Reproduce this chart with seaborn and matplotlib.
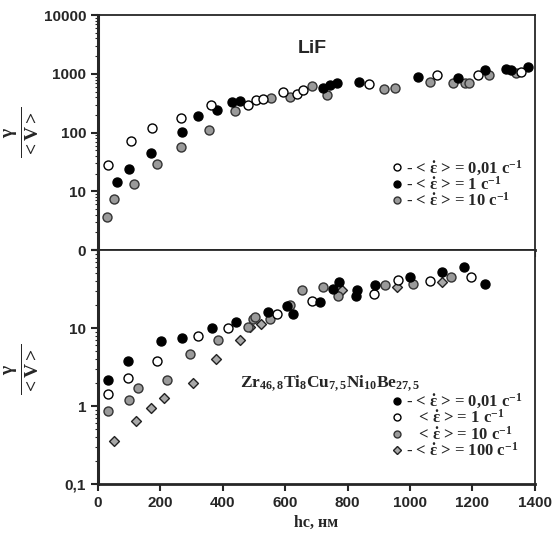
import numpy as np
import pandas as pd
import matplotlib
matplotlib.use('Agg')
import matplotlib.pyplot as plt
import seaborn as sns
from matplotlib.lines import Line2D

# ---- LiF (top panel) ----
lif_x_001 = [32, 105, 174, 265, 361, 480, 508, 530, 594, 637, 658, 868, 1085, 1218, 1357]
lif_y_001 = [28, 72, 121, 174, 295, 300, 357, 372, 495, 452, 529, 661, 952, 952, 1084]
lif_x_1 = [60, 100, 170, 270, 319, 382, 428, 455, 722, 743, 765, 836, 1026, 1154, 1240, 1309, 1325, 1377]
lif_y_1 = [14.6, 23.6, 45, 103, 191, 241, 335, 344, 579, 643, 688, 733, 892, 836, 1158, 1189, 1158, 1318]
lif_x_10 = [30, 52, 116, 190, 265, 357, 439, 553, 615, 685, 733, 916, 952, 1064, 1138, 1176, 1189, 1253, 1341]
lif_y_10 = [3.6, 7.5, 13.3, 28.7, 57, 110, 235, 382, 407, 620, 435, 544, 565, 733, 688, 688, 688, 952, 1017]

# ---- Zr46,8Ti8Cu7,5Ni10Be27,5 (bottom panel) ----
zr_x_001 = [33, 97, 201, 268, 364, 442, 546, 605, 626, 711, 752, 773, 829, 827, 888, 1000, 1103, 1173, 1240]
zr_y_001 = [2.13, 3.78, 6.86, 7.36, 10, 12.1, 16.0, 19.1, 15.2, 21.5, 31.2, 38.9, 30.3, 26.1, 35.2, 45.1, 52.4, 60.7, 36.2]
zr_x_1 = [33, 97, 188, 321, 417, 573, 685, 884, 962, 1064, 1197]
zr_y_1 = [1.41, 2.31, 3.78, 7.8, 10, 15.2, 22.5, 27.5, 40.8, 40.1, 45.1]
zr_x_10 = [33, 100, 127, 222, 295, 385, 480, 498, 503, 551, 615, 655, 722, 770, 920, 1010, 1133]
zr_y_10 = [0.86, 1.18, 1.72, 2.13, 4.62, 7.07, 10.2, 13.1, 13.7, 13.1, 19.8, 30.3, 33.5, 26.1, 35.2, 36.2, 45.1]
zr_x_100 = [51, 121, 170, 211, 303, 377, 455, 487, 524, 781, 957, 1101]
zr_y_100 = [0.36, 0.64, 0.93, 1.27, 1.95, 4.06, 7.07, 10.2, 11.3, 30.3, 33.5, 38.9]

x_ticks = [0, 200, 400, 600, 800, 1000, 1200, 1400]
top_ticks = [1, 10, 100, 1000, 10000]
top_labels = ['0', '10', '100', '1000', '10000']
bot_ticks = [0.1, 1, 10, 100]
bot_labels = ['0,1', '1', '10', '']

lif_labels = [r'- < $\dot{ε}$ > = 0,01 c$^{-1}$', r'- < $\dot{ε}$ > = 1 c$^{-1}$', r'- < $\dot{ε}$ > = 10 c$^{-1}$']
zr_labels = [r'- < $\dot{ε}$ > = 0,01 c$^{-1}$', r'   < $\dot{ε}$ > = 1 c$^{-1}$',
             r'   < $\dot{ε}$ > = 10 c$^{-1}$', r'- < $\dot{ε}$ > = 100 c$^{-1}$']

sns.set_style('ticks')
plt.rcParams['font.family'] = ['Liberation Sans', 'DejaVu Sans']
plt.rcParams['mathtext.fontset'] = 'custom'
plt.rcParams['mathtext.rm'] = 'Liberation Serif:bold'
plt.rcParams['mathtext.it'] = 'Liberation Serif:bold'
plt.rcParams['mathtext.bf'] = 'Liberation Serif:bold'

styles = {
    'open': dict(marker='o', facecolor='white', edgecolor='black'),
    'filled': dict(marker='o', facecolor='black', edgecolor='black'),
    'gray': dict(marker='o', facecolor='#9a9a9a', edgecolor='#333333'),
    'diamond': dict(marker='D', facecolor='#a8a8a8', edgecolor='#222222'),
}

fig = plt.figure(figsize=(5.6, 5.4), dpi=100)
ax1 = fig.add_axes([0.175, 0.537, 0.780, 0.435])
ax2 = fig.add_axes([0.175, 0.1037, 0.780, 0.4333])


def scatter(ax, xs, ys, st, size=42):
    df = pd.DataFrame({'x': xs, 'y': ys})
    s = styles[st]
    sns.scatterplot(data=df, x='x', y='y', ax=ax, marker=s['marker'], color=s['facecolor'],
                    edgecolor=s['edgecolor'], linewidth=1.0, s=size if s['marker'] == 'o' else size * 0.6,
                    legend=False, zorder=3)


scatter(ax1, lif_x_10, lif_y_10, 'gray')
scatter(ax1, lif_x_1, lif_y_1, 'filled')
scatter(ax1, lif_x_001, lif_y_001, 'open')

scatter(ax2, zr_x_100, zr_y_100, 'diamond')
scatter(ax2, zr_x_10, zr_y_10, 'gray')
scatter(ax2, zr_x_1, zr_y_1, 'open')
scatter(ax2, zr_x_001, zr_y_001, 'filled')

for ax in (ax1, ax2):
    ax.set_yscale('log')
    ax.set_xlim(0, 1400)
    ax.set_xticks(x_ticks)
    ax.set_xlabel('')
    ax.set_ylabel('')
    for side in ['top', 'right']:
        ax.spines[side].set_linewidth(1.3)
    ax.spines['left'].set_linewidth(2.2)
    ax.spines['bottom'].set_linewidth(2.0)
    ax.tick_params(axis='both', which='major', length=5, width=1.5, direction='out')
    ax.tick_params(axis='y', which='minor', length=2, width=0.8)
    ax.tick_params(labelsize=11)

ax1.set_ylim(1, 10000)
ax1.set_yticks(top_ticks)
ax1.set_yticklabels(top_labels, fontweight='bold')
ax1.set_xticklabels([])

ax2.set_ylim(0.1, 100)
ax2.set_yticks(bot_ticks)
ax2.set_yticklabels(bot_labels, fontweight='bold')
ax2.set_xticklabels([str(t) for t in x_ticks], fontweight='bold')
ax2.set_xlabel('hc, нм', family=['Liberation Serif', 'DejaVu Serif'], fontweight='bold', fontsize=11.5, labelpad=4)

ax1.text(0.49, 0.84, 'LiF', transform=ax1.transAxes, fontsize=14, fontweight='bold', ha='center')
ax2.text(0.325, 0.415, r'Zr$_{46,8}$Ti$_{8}$Cu$_{7,5}$Ni$_{10}$Be$_{27,5}$', transform=ax2.transAxes,
         fontsize=12.5, family=['Liberation Serif'], fontweight='bold', ha='left')


def handle(st):
    s = styles[st]
    return Line2D([], [], linestyle='none', marker=s['marker'], markerfacecolor=s['facecolor'],
                  markeredgecolor=s['edgecolor'], markersize=5 if s['marker'] == 'o' else 4.5)


leg_font = {'family': 'Liberation Serif', 'weight': 'bold', 'size': 12}
ax1.legend([handle('open'), handle('filled'), handle('gray')], lif_labels, loc='upper left',
           bbox_to_anchor=(0.655, 0.425), frameon=False, prop=leg_font, handlelength=0.6,
           handletextpad=0.2, labelspacing=-0.1, borderpad=0)
ax2.legend([handle('filled'), handle('open'), handle('gray'), handle('diamond')], zr_labels,
           loc='upper left', bbox_to_anchor=(0.655, 0.43), frameon=False, prop=leg_font,
           handlelength=0.6, handletextpad=0.2, labelspacing=-0.1, borderpad=0)

yl = r'$\frac{\gamma}{<V>}$'
fig.text(0.038, 0.755, yl, rotation=90, fontsize=20, va='center', ha='center')
fig.text(0.038, 0.315, yl, rotation=90, fontsize=20, va='center', ha='center')

fig.savefig('out.png', dpi=100)
